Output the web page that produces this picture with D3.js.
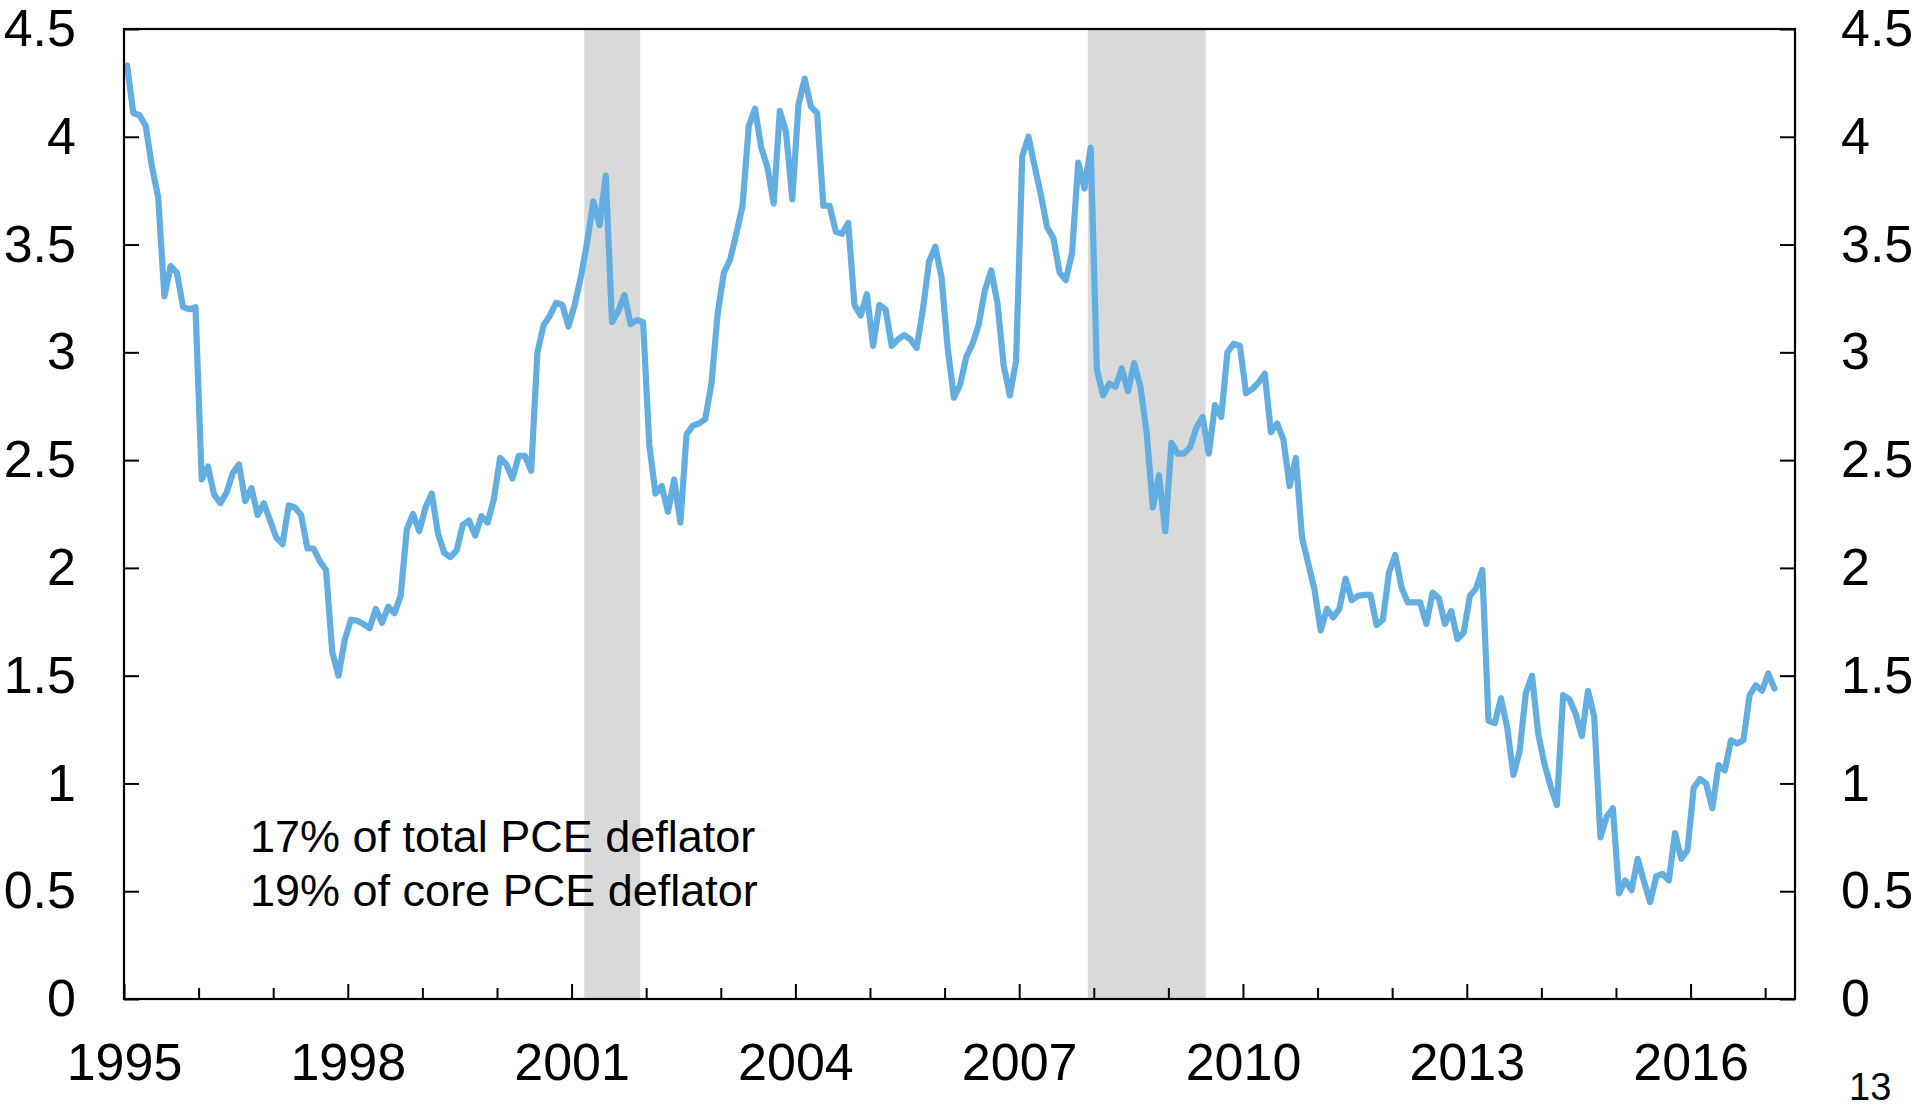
<!DOCTYPE html>
<html>
<head>
<meta charset="utf-8">
<script src="https://cdn.jsdelivr.net/npm/d3@7"></script>
<style>
  body { margin: 0; background: #fff; }
  svg { display: block; }
  text { font-family: "Liberation Sans", Arial, Helvetica, sans-serif; fill: #000; }
</style>
</head>
<body>
<svg id="chart" width="1920" height="1109"></svg>
<script>
// ---------------- DATA ----------------
const startYear = 1995;           // first observation: January 1995, monthly
const values = [
  // 1995
  4.33, 4.11, 4.10, 4.05, 3.86, 3.72, 3.26, 3.40, 3.37, 3.21, 3.20, 3.21,
  // 1996
  2.41, 2.47, 2.34, 2.30, 2.35, 2.44, 2.48, 2.31, 2.37, 2.245, 2.30, 2.22,
  // 1997
  2.14, 2.11, 2.29, 2.28, 2.245, 2.09, 2.09, 2.03, 1.99, 1.61, 1.50, 1.665,
  // 1998
  1.76, 1.755, 1.74, 1.72, 1.81, 1.745, 1.82, 1.79, 1.87, 2.18, 2.25, 2.17,
  // 1999
  2.28, 2.345, 2.16, 2.07, 2.05, 2.08, 2.20, 2.22, 2.15, 2.24, 2.21, 2.32,
  // 2000
  2.51, 2.48, 2.415, 2.52, 2.52, 2.45, 3.00, 3.126, 3.17, 3.23, 3.22, 3.12,
  // 2001
  3.22, 3.35, 3.51, 3.70, 3.59, 3.82, 3.14, 3.19, 3.265, 3.13, 3.15, 3.14,
  // 2002
  2.57, 2.345, 2.38, 2.26, 2.41, 2.21, 2.62, 2.66, 2.67, 2.69, 2.855, 3.18,
  // 2003
  3.37, 3.43, 3.55, 3.68, 4.05, 4.13, 3.95, 3.86, 3.69, 4.12, 4.02, 3.71,
  // 2004
  4.15, 4.27, 4.14, 4.11, 3.68, 3.68, 3.56, 3.55, 3.60, 3.22, 3.17, 3.27,
  // 2005
  3.03, 3.22, 3.20, 3.03, 3.06, 3.08, 3.06, 3.02, 3.196, 3.42, 3.49, 3.35,
  // 2006
  3.02, 2.79, 2.85, 2.98, 3.04, 3.13, 3.29, 3.38, 3.23, 2.94, 2.80, 2.96,
  // 2007
  3.91, 4.00, 3.86, 3.73, 3.58, 3.53, 3.37, 3.335, 3.46, 3.88, 3.76, 3.95,
  // 2008
  2.92, 2.80, 2.855, 2.84, 2.925, 2.82, 2.95, 2.84, 2.63, 2.28, 2.43, 2.17,
  // 2009
  2.58, 2.53, 2.53, 2.56, 2.65, 2.70, 2.53, 2.755, 2.70, 3.00, 3.04, 3.03,
  // 2010
  2.81, 2.83, 2.86, 2.90, 2.63, 2.67, 2.595, 2.38, 2.51, 2.14, 2.02, 1.90,
  // 2011
  1.71, 1.81, 1.77, 1.81, 1.95, 1.85, 1.87, 1.875, 1.875, 1.735, 1.76, 1.98,
  // 2012
  2.06, 1.91, 1.84, 1.84, 1.84, 1.74, 1.885, 1.86, 1.74, 1.80, 1.67, 1.70,
  // 2013
  1.87, 1.905, 1.99, 1.29, 1.28, 1.395, 1.26, 1.04, 1.15, 1.42, 1.50, 1.23,
  // 2014
  1.09, 0.985, 0.90, 1.41, 1.39, 1.325, 1.22, 1.43, 1.31, 0.75, 0.845, 0.885,
  // 2015
  0.49, 0.55, 0.505, 0.65, 0.545, 0.45, 0.57, 0.58, 0.55, 0.77, 0.65, 0.69,
  // 2016
  0.98, 1.02, 1.00, 0.885, 1.085, 1.06, 1.20, 1.185, 1.20, 1.41, 1.455, 1.43,
  // 2017
  1.51, 1.44
];
const recessions = [
  [2001.17, 2001.92],
  [2007.92, 2009.50]
];
const xDomain = [1995, 2017.4];
const yDomain = [0, 4.5];
const minorTickYears = d3.range(1995, 2018);
const labelYears = [1995, 1998, 2001, 2004, 2007, 2010, 2013, 2016];
const yTickValues = [0, 0.5, 1, 1.5, 2, 2.5, 3, 3.5, 4, 4.5];
const yTickLabels = ["0", "0.5", "1", "1.5", "2", "2.5", "3", "3.5", "4", "4.5"];
const notes = ["17% of total PCE deflator", "19% of core PCE deflator"];
const pageNumber = "13";

// ---------------- LAYOUT ----------------
const W = 1920, H = 1109;
const plot = { left: 124, right: 1795, top: 29, bottom: 999 };
const lineColor = "#63aee1";
const bandColor = "#d9d9d9";
const tickFont = 52;

const svg = d3.select("#chart");

const x = d3.scaleLinear().domain(xDomain).range([plot.left, plot.right]);
const y = d3.scaleLinear().domain(yDomain).range([plot.bottom, plot.top]);

// recession bands
svg.append("g").selectAll("rect").data(recessions).join("rect")
  .attr("x", d => x(d[0]))
  .attr("width", d => x(d[1]) - x(d[0]))
  .attr("y", y(yDomain[1]))
  .attr("height", y(yDomain[0]) - y(yDomain[1]))
  .attr("fill", bandColor);

// series line
const series = values.map((v, i) => ({ t: startYear + (i + 0.5) / 12, v }));
svg.append("path")
  .datum(series)
  .attr("fill", "none")
  .attr("stroke", lineColor)
  .attr("stroke-width", 6.2)
  .attr("stroke-linejoin", "round")
  .attr("stroke-linecap", "round")
  .attr("d", d3.line().x(d => x(d.t)).y(d => y(d.v)));

// frame
svg.append("rect")
  .attr("x", plot.left).attr("y", plot.top)
  .attr("width", plot.right - plot.left)
  .attr("height", plot.bottom - plot.top)
  .attr("fill", "none").attr("stroke", "#000").attr("stroke-width", 2.2);

function styleAxis(g) {
  g.select(".domain").remove();
  g.selectAll(".tick line").attr("stroke", "#000").attr("stroke-width", 2);
  g.selectAll("text").attr("font-size", tickFont)
    .attr("font-family", "Liberation Sans, Arial, sans-serif").attr("fill", "#000");
}

// left axis
svg.append("g")
  .attr("transform", `translate(${plot.left},0)`)
  .call(d3.axisLeft(y).tickValues(yTickValues)
    .tickFormat((d, i) => yTickLabels[i]).tickSize(-15).tickPadding(48))
  .call(styleAxis);

// right axis
svg.append("g")
  .attr("transform", `translate(${plot.right},0)`)
  .call(d3.axisRight(y).tickValues(yTickValues)
    .tickFormat((d, i) => yTickLabels[i]).tickSize(-15).tickPadding(46))
  .call(styleAxis);

// bottom axis: minor yearly ticks
svg.append("g")
  .attr("transform", `translate(0,${plot.bottom})`)
  .call(d3.axisBottom(x).tickValues(minorTickYears.filter(d => !labelYears.includes(d)))
    .tickFormat("").tickSize(-11))
  .call(styleAxis);

// bottom axis: major labelled ticks
svg.append("g")
  .attr("transform", `translate(0,${plot.bottom})`)
  .call(d3.axisBottom(x).tickValues(labelYears)
    .tickFormat(d3.format("d")).tickSize(-15).tickPadding(44))
  .call(styleAxis);

// annotation
svg.append("g").selectAll("text").data(notes).join("text")
  .attr("x", 250)
  .attr("y", (d, i) => 852 + i * 54)
  .attr("font-size", 45)
  .text(d => d);

// page number
svg.append("text")
  .attr("x", 1849).attr("y", 1100)
  .attr("font-size", 38)
  .text(pageNumber);
</script>
</body>
</html>
